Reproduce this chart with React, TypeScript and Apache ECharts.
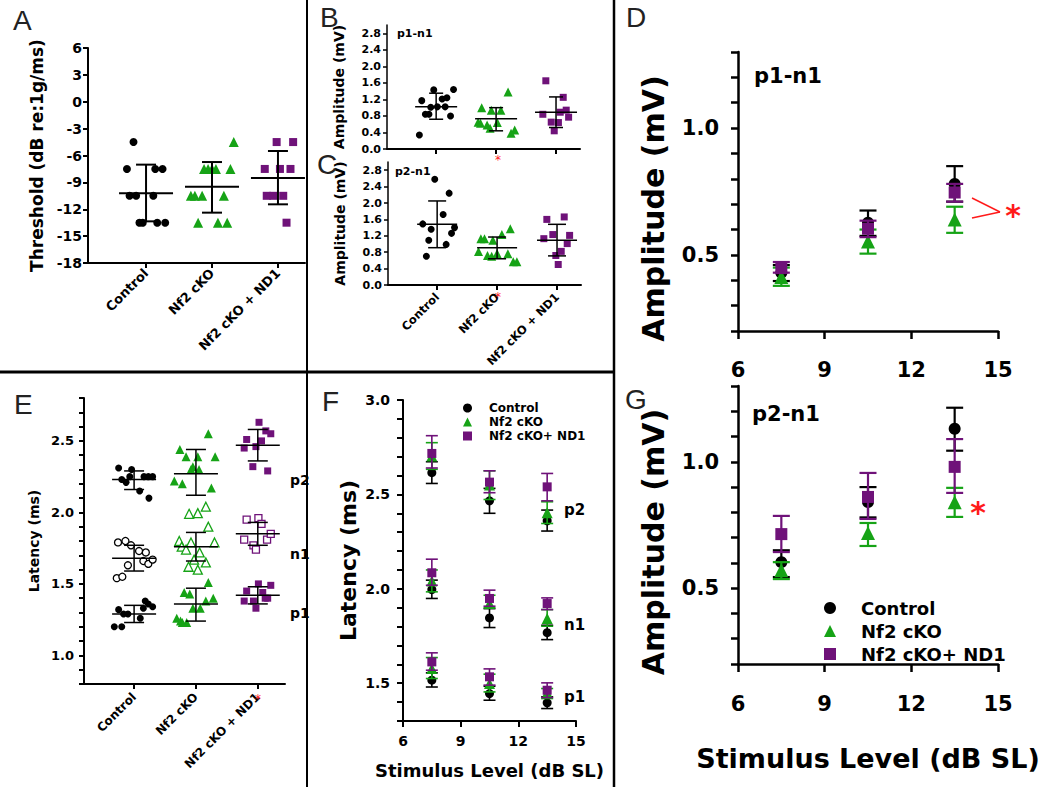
import React, { useEffect, useRef } from 'react';
import * as echarts from 'echarts';

const FONT = '"DejaVu Sans", Verdana, sans-serif';
const LETTER_FONT = 'Arial, "Liberation Sans", Helvetica, sans-serif';

const GROUPS = ['Control', 'Nf2 cKO', 'Nf2 cKO + ND1'];
const LEGEND_NAMES = ['Control', 'Nf2 cKO', 'Nf2 cKO+ ND1'];
const LEVELS = [7.5, 10.5, 13.5];
const CAT_TICKS = [1, 2, 3];

// ---------- Panel A: threshold, [jitter, dB] ----------
const thrCtrl = [[-0.19, -4.5], [-0.29, -7.5], [0.14, -7.5], [0.25, -7.5], [-0.25, -10.5], [-0.15, -10.5], [0.11, -10.5], [-0.1, -13.5], [-0.05, -13.5], [0.17, -13.5], [0.29, -13.5]];
const thrNf2 = [[0.33, -4.5], [-0.12, -7.5], [-0.06, -7.5], [0, -7.5], [0.06, -7.5], [0.28, -7.5], [-0.32, -10.5], [-0.26, -10.5], [-0.15, -10.5], [0.18, -10.5], [-0.21, -13.5], [0.09, -13.5], [0.23, -13.5]];
const thrNd1 = [[-0.02, -4.5], [0.23, -4.5], [-0.2, -7.5], [0.03, -7.5], [0.19, -7.5], [-0.17, -10.5], [-0.07, -10.5], [0.08, -10.5], [0.13, -13.5]];
const thrMean = [-10.2, -9.5, -8.5];
const thrLo = [-13.35, -12.38, -11.45];
const thrHi = [-7.02, -6.73, -5.5];
const thrTicks = [-18, -15, -12, -9, -6, -3, 0, 3, 6];

// ---------- Panel B: p1-n1 amplitude ----------
const p1n1Ctrl = [[-0.28, 0.34], [-0.24, 1.17], [-0.18, 0.84], [-0.12, 0.84], [-0.09, 1.01], [-0.04, 1.43], [0.02, 1.02], [0.1, 1.21], [0.18, 1.24], [0.15, 1.02], [0.24, 0.8], [0.29, 1.44]];
const p1n1Nf2 = [[-0.24, 1.0], [-0.08, 0.94], [0.08, 0.94], [-0.3, 0.65], [-0.26, 0.62], [-0.15, 0.58], [-0.1, 0.5], [0.02, 0.64], [0.2, 1.38], [0.31, 0.46], [0.25, 0.38]];
const p1n1Nd1 = [[-0.17, 1.65], [0.12, 1.25], [0.17, 0.94], [-0.22, 0.84], [0.07, 0.89], [0.21, 0.77], [-0.08, 0.65], [0.04, 0.64], [-0.03, 0.44]];
const p1n1Mean = [1.02, 0.73, 0.89];
const p1n1Lo = [0.72, 0.44, 0.52];
const p1n1Hi = [1.35, 1.0, 1.26];

// ---------- Panel C: p2-n1 amplitude ----------
const p2n1Ctrl = [[-0.04, 2.58], [0.2, 2.24], [0.1, 1.72], [-0.24, 1.49], [-0.1, 1.36], [0.29, 1.4], [0.24, 1.26], [-0.14, 1.09], [0.15, 0.99], [-0.18, 0.7]];
const p2n1Nf2 = [[-0.27, 1.13], [-0.21, 1.13], [-0.07, 1.09], [0.08, 1.23], [0.22, 1.37], [-0.31, 0.82], [-0.16, 0.72], [-0.09, 0.7], [0, 0.77], [0.18, 0.76], [0.27, 0.57], [0.33, 0.57]];
const p2n1Nd1 = [[-0.17, 1.6], [0.12, 1.66], [-0.22, 1.13], [-0.07, 1.23], [0.21, 1.21], [0.17, 1.01], [0.07, 0.82], [-0.02, 0.72], [0.02, 0.5]];
const p2n1Mean = [1.48, 0.91, 1.09];
const p2n1Lo = [0.91, 0.64, 0.71];
const p2n1Hi = [2.05, 1.17, 1.48];
const ampTicks = [0, 0.4, 0.8, 1.2, 1.6, 2.0, 2.4, 2.8];

// ---------- Panel E: latencies per peak ----------
const latCtrlP2 = [[-0.25, 2.31], [-0.04, 2.3], [-0.2, 2.23], [-0.13, 2.21], [-0.07, 2.25], [0.16, 2.25], [0.3, 2.25], [0.23, 2.25], [0.09, 2.15], [0.24, 2.1]];
const latCtrlN1 = [[-0.26, 1.79], [-0.14, 1.8], [-0.05, 1.77], [0.08, 1.73], [0.19, 1.72], [0.15, 1.66], [0.23, 1.64], [0.3, 1.67], [-0.1, 1.63], [-0.28, 1.54], [-0.19, 1.55]];
const latCtrlP1 = [[-0.32, 1.2], [-0.2, 1.2], [-0.25, 1.32], [-0.17, 1.29], [-0.1, 1.29], [0.1, 1.26], [0.18, 1.38], [0.23, 1.36], [0.3, 1.34], [0.15, 1.33]];
const latNf2P2 = [[-0.26, 2.44], [-0.16, 2.39], [0.03, 2.39], [-0.05, 2.32], [0.05, 2.3], [0.2, 2.55], [0.31, 2.39], [-0.35, 2.22], [-0.22, 2.2], [0.25, 2.17], [-0.08, 2.3]];
const latNf2N1 = [[0.16, 2.04], [-0.11, 1.99], [0.03, 1.995], [0.2, 1.9], [-0.27, 1.8], [-0.23, 1.76], [-0.16, 1.74], [-0.08, 1.79], [0.06, 1.72], [0.3, 1.79], [-0.03, 1.67], [0.16, 1.65], [-0.12, 1.62], [0.03, 1.6]];
const latNf2P1 = [[0.2, 1.51], [-0.19, 1.44], [-0.1, 1.43], [0.28, 1.4], [0.16, 1.38], [-0.05, 1.33], [0.07, 1.33], [-0.31, 1.26], [-0.25, 1.24], [-0.15, 1.23], [-0.22, 1.23]];
const latNd1P2 = [[0.02, 2.63], [-0.18, 2.51], [0.13, 2.57], [0.21, 2.55], [0.06, 2.5], [-0.03, 2.46], [-0.22, 2.45], [-0.08, 2.32], [0.16, 2.29]];
const latNd1N1 = [[-0.18, 1.95], [0.01, 1.96], [0.06, 1.92], [-0.22, 1.81], [-0.07, 1.77], [-0.03, 1.74], [0.15, 1.81], [0.21, 1.85]];
const latNd1P1 = [[0.01, 1.5], [0.21, 1.49], [-0.18, 1.45], [0.08, 1.44], [-0.22, 1.38], [-0.07, 1.38], [0.12, 1.4], [0.16, 1.4], [-0.03, 1.33]];
// [p1, n1, p2]
const latCtrlMean = [1.29, 1.68, 2.23];
const latCtrlLo = [1.23, 1.59, 2.16];
const latCtrlHi = [1.35, 1.77, 2.29];
const latNf2Mean = [1.36, 1.76, 2.27];
const latNf2Lo = [1.24, 1.66, 2.12];
const latNf2Hi = [1.47, 1.86, 2.44];
const latNd1Mean = [1.42, 1.85, 2.47];
const latNd1Lo = [1.36, 1.77, 2.36];
const latNd1Hi = [1.48, 1.93, 2.58];
const latLabelTicks = [1.0, 1.5, 2.0, 2.5];

// ---------- Panel F: latency vs level, rows = [p1, n1, p2], columns = LEVELS ----------
const fCtrlMean = [[1.516, 1.445, 1.396], [1.996, 1.846, 1.768], [2.615, 2.466, 2.36]];
const fCtrlLo = [[1.48, 1.41, 1.366], [1.949, 1.795, 1.731], [2.558, 2.4, 2.306]];
const fCtrlHi = [[1.555, 1.484, 1.428], [2.046, 1.895, 1.807], [2.673, 2.532, 2.417]];
const fNf2Mean = [[1.578, 1.498, 1.449], [2.042, 1.922, 1.843], [2.703, 2.55, 2.403]];
const fNf2Lo = [[1.525, 1.454, 1.419], [1.984, 1.9, 1.802], [2.633, 2.473, 2.346]];
const fNf2Hi = [[1.636, 1.548, 1.472], [2.1, 1.966, 1.89], [2.774, 2.625, 2.461]];
const fNd1Mean = [[1.613, 1.534, 1.463], [2.085, 1.949, 1.922], [2.717, 2.565, 2.54]];
const fNd1Lo = [[1.569, 1.49, 1.424], [2.019, 1.908, 1.89], [2.64, 2.509, 2.466]];
const fNd1Hi = [[1.661, 1.576, 1.502], [2.157, 1.993, 1.952], [2.811, 2.625, 2.611]];
const fLabelTicks = [1.5, 2.0, 2.5, 3.0];

// ---------- Panel D: p1-n1 amplitude vs level ----------
const dCtrlMean = [0.43, 0.627, 0.78];
const dCtrlLo = [0.397, 0.575, 0.71];
const dCtrlHi = [0.46, 0.675, 0.85];
const dNf2Mean = [0.413, 0.553, 0.64];
const dNf2Lo = [0.378, 0.505, 0.587];
const dNf2Hi = [0.45, 0.6, 0.69];
const dNd1Mean = [0.448, 0.603, 0.746];
const dNd1Lo = [0.43, 0.57, 0.71];
const dNd1Hi = [0.472, 0.635, 0.78];

// ---------- Panel G: p2-n1 amplitude vs level ----------
const gCtrlMean = [0.603, 0.841, 1.131];
const gCtrlLo = [0.544, 0.78, 1.044];
const gCtrlHi = [0.65, 0.9, 1.214];
const gNf2Mean = [0.571, 0.718, 0.84];
const gNf2Lo = [0.536, 0.667, 0.782];
const gNf2Hi = [0.603, 0.758, 0.897];
const gNd1Mean = [0.714, 0.861, 0.98];
const gNd1Lo = [0.643, 0.774, 0.877];
const gNd1Hi = [0.786, 0.956, 1.09];
const ampLabelTicks = [0.5, 1.0];
const levelTicks = [6, 9, 12, 15];

// ---------- styling ----------
const COLORS = ['#000000', '#16a316', '#6f1279'];
const SYMS = ['circle', 'triangle', 'rect'];
const BLACK = '#000';
const AXIS_LINE = { color: BLACK, width: 2 };

function jitter(pts: number[][], g: number) {
  return pts.map((p) => [g + 1 + p[0], p[1]]);
}

function scatter(name: string, grid: number, data: number[][], g: number, size: number, hollow = false, z = 3) {
  const s = SYMS[g] === 'triangle' ? size + 2 : size;
  return {
    type: 'scatter', name, xAxisIndex: grid, yAxisIndex: grid, data, symbol: SYMS[g], symbolSize: s, z, silent: true,
    itemStyle: hollow ? { color: '#fff', borderColor: COLORS[g], borderWidth: 1.3, opacity: 1 } : { color: COLORS[g], opacity: 1 },
  };
}

function meanSd(grid: number, data: number[][], halfMean: number, halfCap: number, lw = 2) {
  return {
    type: 'custom', xAxisIndex: grid, yAxisIndex: grid, z: 6, silent: true, data,
    renderItem: (_p: any, api: any) => {
      const x = api.value(0);
      const c = api.coord([x, api.value(1)]);
      const lo = api.coord([x, api.value(2)]);
      const hi = api.coord([x, api.value(3)]);
      const st = { stroke: BLACK, lineWidth: lw };
      return {
        type: 'group', children: [
          { type: 'line', shape: { x1: c[0] - halfMean, y1: c[1], x2: c[0] + halfMean, y2: c[1] }, style: st },
          { type: 'line', shape: { x1: lo[0], y1: lo[1], x2: hi[0], y2: hi[1] }, style: st },
          { type: 'line', shape: { x1: lo[0] - halfCap, y1: lo[1], x2: lo[0] + halfCap, y2: lo[1] }, style: st },
          { type: 'line', shape: { x1: hi[0] - halfCap, y1: hi[1], x2: hi[0] + halfCap, y2: hi[1] }, style: st },
        ],
      };
    },
  };
}

function errBars(name: string, grid: number, data: number[][], color: string, halfCap: number, lw: number, z: number) {
  return {
    type: 'custom', name, xAxisIndex: grid, yAxisIndex: grid, z, silent: true, data,
    renderItem: (_p: any, api: any) => {
      const x = api.value(0);
      const lo = api.coord([x, api.value(1)]);
      const hi = api.coord([x, api.value(2)]);
      const st = { stroke: color, lineWidth: lw };
      return {
        type: 'group', children: [
          { type: 'line', shape: { x1: lo[0], y1: lo[1], x2: hi[0], y2: hi[1] }, style: st },
          { type: 'line', shape: { x1: lo[0] - halfCap, y1: lo[1], x2: lo[0] + halfCap, y2: lo[1] }, style: st },
          { type: 'line', shape: { x1: hi[0] - halfCap, y1: hi[1], x2: hi[0] + halfCap, y2: hi[1] }, style: st },
        ],
      };
    },
  };
}

function catX(grid: number, min: number, max: number, showLabels: boolean, fontSize: number, margin: number) {
  return {
    type: 'value', gridIndex: grid, min, max,
    axisLine: { show: true, onZero: false, lineStyle: AXIS_LINE },
    axisTick: { show: true, customValues: CAT_TICKS, length: 5, lineStyle: AXIS_LINE },
    axisLabel: {
      show: showLabels, customValues: CAT_TICKS, rotate: 45, fontSize, fontWeight: 'bold', fontFamily: FONT, color: BLACK, margin,
      formatter: (v: number) => GROUPS[Math.round(v) - 1] ?? '',
    },
    splitLine: { show: false },
  };
}

function levelX(grid: number, fontSize: number, margin: number, tickLen: number, lw: number, name?: string, nameSize?: number, nameGap?: number) {
  return {
    type: 'value', gridIndex: grid, min: 6, max: 15, interval: 3,
    axisLine: { show: true, onZero: false, lineStyle: { color: BLACK, width: lw } },
    axisTick: { show: true, length: tickLen, lineStyle: { color: BLACK, width: lw } },
    axisLabel: { fontSize, fontWeight: 'bold', fontFamily: FONT, color: BLACK, margin, customValues: levelTicks },
    splitLine: { show: false },
    name: name ?? '', nameLocation: 'middle', nameGap: nameGap ?? 0,
    nameTextStyle: { fontSize: nameSize ?? 12, fontWeight: 'bold', fontFamily: FONT, color: BLACK },
  };
}

function valY(o: any) {
  return {
    type: 'value', gridIndex: o.grid, min: o.min, max: o.max,
    ...(o.interval ? { interval: o.interval } : {}),
    axisLine: { show: true, onZero: false, lineStyle: { color: BLACK, width: o.lw ?? 2 } },
    axisTick: { show: true, length: o.tickLen ?? 5, lineStyle: { color: BLACK, width: o.lw ?? 2 }, ...(o.tickValues ? { customValues: o.tickValues } : {}) },
    axisLabel: {
      fontSize: o.fontSize, fontWeight: 'bold', fontFamily: FONT, color: BLACK, margin: o.margin,
      ...(o.labelValues ? { customValues: o.labelValues } : {}),
      formatter: o.fmt,
    },
    splitLine: { show: false },
    name: o.name, nameLocation: 'middle', nameGap: o.nameGap,
    nameTextStyle: { fontSize: o.nameSize, fontWeight: 'bold', fontFamily: FONT, color: BLACK, ...(o.namePad ? { padding: o.namePad } : {}) },
  };
}

function txt(text: string, x: number, y: number, fontSize: number, opts: any = {}) {
  return {
    type: 'text', x, y, z: 50, silent: true,
    style: {
      text, fontSize, fontFamily: opts.family ?? FONT, fontWeight: opts.weight ?? 'bold', fill: opts.color ?? BLACK,
      align: opts.align ?? 'left', verticalAlign: 'middle',
    },
  };
}

function line(x1: number, y1: number, x2: number, y2: number, w: number, color = BLACK) {
  return { type: 'line', z: 40, silent: true, shape: { x1, y1, x2, y2 }, style: { stroke: color, lineWidth: w } };
}

function buildOption() {
  const grids = [
    { left: 88, top: 48, width: 217, height: 215 },   // A
    { left: 387, top: 25, width: 193, height: 124 },  // B
    { left: 388, top: 162, width: 193, height: 123 }, // C
    { left: 738, top: 52, width: 260, height: 279 },  // D
    { left: 84, top: 398, width: 201, height: 286 },  // E
    { left: 403, top: 400, width: 173, height: 321 }, // F
    { left: 738, top: 386, width: 260, height: 278 }, // G
  ];

  const fix1 = (v: number) => v.toFixed(1);

  const xAxis = [
    catX(0, 0.12, 3.41, true, 13, 8),
    catX(1, 0.18, 3.4, false, 11, 8),
    catX(2, 0.18, 3.4, true, 11.5, 10),
    levelX(3, 21, 28, 8, 2.5),
    catX(4, 0.19, 3.44, true, 12, 11),
    levelX(5, 14, 13, 6, 2, 'Stimulus Level (dB SL)', 18, 40),
    levelX(6, 21, 29, 8, 2.5, 'Stimulus Level (dB SL)', 27, 81),
  ];

  const yAxis = [
    valY({ grid: 0, min: -18, max: 6, interval: 3, fontSize: 14, margin: 6, tickLen: 5, labelValues: thrTicks, fmt: (v: number) => String(v), name: 'Threshold (dB re:1g/ms)', nameGap: 43, nameSize: 17 }),
    valY({ grid: 1, min: 0, max: 3.0, fontSize: 11, margin: 6, tickLen: 4, tickValues: ampTicks, labelValues: ampTicks, fmt: fix1, name: 'Amplitude (mV)', nameGap: 41, nameSize: 14, lw: 1.5 }),
    valY({ grid: 2, min: 0, max: 3.0, fontSize: 11, margin: 6, tickLen: 4, tickValues: ampTicks, labelValues: ampTicks, fmt: fix1, name: 'Amplitude (mV)', nameGap: 41, nameSize: 14, lw: 1.5 }),
    valY({ grid: 3, min: 0.2, max: 1.3, interval: 0.1, fontSize: 21, margin: 19, tickLen: 7, labelValues: ampLabelTicks, fmt: fix1, name: 'Amplitude (mV)', nameGap: 70, nameSize: 30, lw: 2.5, namePad: [0, 34, 0, 0] }),
    valY({ grid: 4, min: 0.8, max: 2.8, interval: 0.1, fontSize: 13, margin: 10, tickLen: 5, labelValues: latLabelTicks, fmt: fix1, name: 'Latency (ms)', nameGap: 43, nameSize: 14 }),
    valY({ grid: 5, min: 1.3, max: 3.0, interval: 0.1, fontSize: 14, margin: 13, tickLen: 6, labelValues: fLabelTicks, fmt: fix1, name: 'Latency (ms)', nameGap: 44, nameSize: 22 }),
    valY({ grid: 6, min: 0.2, max: 1.3, interval: 0.1, fontSize: 21, margin: 19, tickLen: 7, labelValues: ampLabelTicks, fmt: fix1, name: 'Amplitude (mV)', nameGap: 70, nameSize: 30, lw: 2.5, namePad: [0, 34, 0, 0] }),
  ];

  const series: any[] = [];

  // A
  series.push(scatter(GROUPS[0], 0, jitter(thrCtrl, 0), 0, 8));
  series.push(scatter(GROUPS[1], 0, jitter(thrNf2, 1), 1, 8));
  series.push(scatter(GROUPS[2], 0, jitter(thrNd1, 2), 2, 8));
  series.push(meanSd(0, thrMean.map((m, i) => [i + 1, m, thrLo[i], thrHi[i]]), 27, 10));

  // B
  series.push(scatter(GROUPS[0], 1, jitter(p1n1Ctrl, 0), 0, 7));
  series.push(scatter(GROUPS[1], 1, jitter(p1n1Nf2, 1), 1, 7));
  series.push(scatter(GROUPS[2], 1, jitter(p1n1Nd1, 2), 2, 7));
  series.push(meanSd(1, p1n1Mean.map((m, i) => [i + 1, m, p1n1Lo[i], p1n1Hi[i]]), 21, 7, 1.5));

  // C
  series.push(scatter(GROUPS[0], 2, jitter(p2n1Ctrl, 0), 0, 7));
  series.push(scatter(GROUPS[1], 2, jitter(p2n1Nf2, 1), 1, 7));
  series.push(scatter(GROUPS[2], 2, jitter(p2n1Nd1, 2), 2, 7));
  series.push(meanSd(2, p2n1Mean.map((m, i) => [i + 1, m, p2n1Lo[i], p2n1Hi[i]]), 20, 9, 1.5));

  // E
  const eSets = [
    [latCtrlP1, latCtrlN1, latCtrlP2],
    [latNf2P1, latNf2N1, latNf2P2],
    [latNd1P1, latNd1N1, latNd1P2],
  ];
  eSets.forEach((sets, g) => {
    sets.forEach((pts, k) => series.push(scatter(GROUPS[g], 4, jitter(pts, g), g, 7, k === 1)));
  });
  const eMeans = [latCtrlMean, latNf2Mean, latNd1Mean];
  const eLos = [latCtrlLo, latNf2Lo, latNd1Lo];
  const eHis = [latCtrlHi, latNf2Hi, latNd1Hi];
  const eData: number[][] = [];
  eMeans.forEach((ms, g) => ms.forEach((m, k) => eData.push([g + 1, m, eLos[g][k], eHis[g][k]])));
  series.push(meanSd(4, eData, 22, 10, 1.5));

  // D & G
  const addLevelPanel = (grid: number, means: number[][], los: number[][], his: number[][]) => {
    means.forEach((ms, g) => {
      series.push(errBars(LEGEND_NAMES[g], grid, ms.map((_m, i) => [LEVELS[i], los[g][i], his[g][i]]), COLORS[g], 8.5, 2.2, 2 + g * 2));
      series.push(scatter(LEGEND_NAMES[g], grid, ms.map((m, i) => [LEVELS[i], m]), g, 12, false, 3 + g * 2));
    });
  };
  addLevelPanel(3, [dCtrlMean, dNf2Mean, dNd1Mean], [dCtrlLo, dNf2Lo, dNd1Lo], [dCtrlHi, dNf2Hi, dNd1Hi]);
  addLevelPanel(6, [gCtrlMean, gNf2Mean, gNd1Mean], [gCtrlLo, gNf2Lo, gNd1Lo], [gCtrlHi, gNf2Hi, gNd1Hi]);

  // F
  const fMeans = [fCtrlMean, fNf2Mean, fNd1Mean];
  const fLos = [fCtrlLo, fNf2Lo, fNd1Lo];
  const fHis = [fCtrlHi, fNf2Hi, fNd1Hi];
  fMeans.forEach((rows, g) => {
    const eb: number[][] = [];
    const pts: number[][] = [];
    rows.forEach((row, k) => row.forEach((m, i) => {
      eb.push([LEVELS[i], fLos[g][k][i], fHis[g][k][i]]);
      pts.push([LEVELS[i], m]);
    }));
    series.push(errBars(LEGEND_NAMES[g], 5, eb, COLORS[g], 6, 1.6, 2 + g * 2));
    series.push(scatter(LEGEND_NAMES[g], 5, pts, g, 9, false, 3 + g * 2));
  });

  const legendData = () => LEGEND_NAMES.map((n, i) => ({ name: n, icon: SYMS[i], itemStyle: { color: COLORS[i], borderWidth: 0 } }));
  const legend = [
    {
      orient: 'vertical', left: 458, top: 397, itemWidth: 9, itemHeight: 9, itemGap: 2, selectedMode: false,
      textStyle: { fontSize: 12, fontWeight: 'bold', fontFamily: FONT, color: BLACK, lineHeight: 12, padding: [0, 0, 0, 12] },
      data: legendData(),
    },
    {
      orient: 'vertical', left: 819, top: 593, itemWidth: 12, itemHeight: 12, itemGap: 3, selectedMode: false,
      textStyle: { fontSize: 18, fontWeight: 'bold', fontFamily: FONT, color: BLACK, lineHeight: 20, padding: [0, 0, 0, 20] },
      data: legendData(),
    },
  ];

  const RED = '#ff1a1a';
  const L = { weight: 'normal', color: '#222', family: LETTER_FONT };
  const graphic = [
    // frame lines
    line(307, 0, 307, 787, 2),
    line(0, 372, 614, 372, 3),
    line(614, 0, 614, 787, 2.5),
    // panel letters
    txt('A', 13, 20, 28, L),
    txt('B', 320, 17, 28, L),
    txt('C', 317, 164, 28, L),
    txt('D', 626, 17, 28, L),
    txt('E', 14, 404, 28, L),
    txt('F', 322, 401, 28, L),
    txt('G', 625, 399, 28, L),
    // panel captions
    txt('p1-n1', 397, 33, 11),
    txt('p2-n1', 395, 171, 11),
    txt('p1-n1', 754, 76, 21),
    txt('p2-n1', 752, 414, 21),
    txt('p2', 290, 480, 14),
    txt('n1', 290, 554, 14),
    txt('p1', 290, 613, 14),
    txt('p2', 564, 510, 15),
    txt('n1', 564, 625, 15),
    txt('p1', 564, 697, 15),
    // significance markers
    txt('*', 498, 160, 12, { align: 'center', color: RED, weight: 'normal' }),
    txt('*', 498, 297, 12, { align: 'center', color: RED, weight: 'normal' }),
    txt('*', 258, 699, 12, { align: 'center', color: RED, weight: 'normal' }),
    line(972, 198, 1000, 212, 1.5, RED),
    line(972, 218, 1000, 212, 1.5, RED),
    txt('*', 1013, 215, 30, { align: 'center', color: RED }),
    txt('*', 978, 512, 30, { align: 'center', color: RED }),
  ];

  return {
    animation: false,
    backgroundColor: '#fff',
    grid: grids.map((g) => ({ ...g, containLabel: false })),
    xAxis,
    yAxis,
    legend,
    series,
    graphic,
  };
}

export default function App() {
  const ref = useRef<HTMLDivElement>(null);
  useEffect(() => {
    if (!ref.current) return;
    const chart = echarts.init(ref.current, undefined, { renderer: 'svg' });
    chart.setOption(buildOption() as any);
    return () => chart.dispose();
  }, []);
  return <div ref={ref} style={{ position: 'absolute', left: 0, top: 0, width: 1050, height: 787 }} />;
}
